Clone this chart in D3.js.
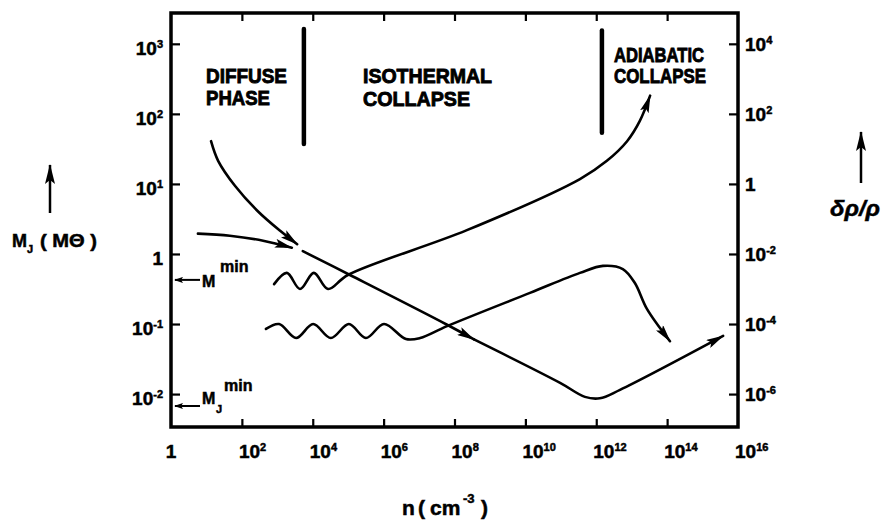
<!DOCTYPE html>
<html>
<head>
<meta charset="utf-8">
<script src="https://cdn.jsdelivr.net/npm/d3@7"></script>
<style>
body { margin: 0; background: #fff; }
text { font-family: "Liberation Sans", Arial, sans-serif; font-weight: bold; fill: #000; stroke: #000; stroke-width: 0.5; }
.track { fill: none; stroke: #000; stroke-width: 2.6; stroke-linecap: round; stroke-linejoin: round; }
.axis line { stroke: #000; stroke-width: 2.2; }
.axis path { display: none; }
</style>
</head>
<body>
<svg width="883" height="526"></svg>
<script>
//All values are log10.
var xTickExp = [0, 2, 4, 6, 8, 10, 12, 14, 16];
var leftTickExp = [3, 2, 1, 0, -1, -2];
var rightTickExp = [4, 2, 0, -2, -4, -6];
var phaseNames = [['DIFFUSE', 'PHASE'], ['ISOTHERMAL', 'COLLAPSE'], ['ADIABATIC', 'COLLAPSE']];
var phaseEdgeN = [3.75, 12.16];
var phaseEdgeTop = [3.21, 3.19], phaseEdgeBottom = [1.57, 1.73];

//Jeans mass track: log n, log M.
var jeansN = [3.72, 5.05, 7.79, 8.55, 10.98, 11.68, 12.10, 12.67, 15.58];
var jeansM = [0.04, -0.30, -1.01, -1.22, -1.84, -2.04, -2.06, -1.94, -1.17];
//Perturbation mass track (wavy start): log n, log M.
var massN = [2.91, 3.27, 3.64, 4.03, 4.43, 4.99, 8.35, 11.54, 12.30, 12.87, 13.23, 13.52];
var massM = [-0.43, -0.27, -0.50, -0.27, -0.50, -0.30, 0.34, 1.07, 1.33, 1.61, 1.90, 2.26];
//Density contrast track (wavy start): log n, log drho/rho.
var contrastN = [2.68, 3.05, 3.53, 4.01, 4.51, 5.02, 5.50, 6.01, 6.63, 7.03, 7.79, 10.13, 11.54, 12.19, 12.75, 13.09, 13.43, 14.08];
var contrastD = [-4.14, -4.00, -4.40, -4.00, -4.40, -4.00, -4.40, -4.00, -4.43, -4.40, -4.06, -3.11, -2.54, -2.34, -2.43, -2.83, -3.57, -4.49];
//Two infall arrows towards the start of the Jeans track.
var inflowN = [0.76, 1.66, 2.60, 3.41], inflowM = [0.29, 0.26, 0.19, 0.09];
var diffuseN = [1.13, 1.33, 1.81, 2.45, 3.08, 3.56], diffuseM = [1.61, 1.33, 0.97, 0.61, 0.33, 0.14];
//Minimum masses marked on the left axis.
var minMassM = -0.37, minJeansM = -2.17;

var svg = d3.select('svg');
var p10 = function(e) { return Math.pow(10, e); };

var x = d3.scaleLog().domain([1, 1e16]).range([171, 738]);
var yL = d3.scaleLog().domain([p10(-2.47), p10(3.44)]).range([427, 13]);
var yR = d3.scaleLog().domain([p10(-6.94), p10(4.88)]).range([427, 13]);
var plotL = x.range()[0], plotR = x.range()[1], plotT = yL.range()[1], plotB = yL.range()[0];

//Arrow heads.
var defs = svg.append('defs');
function head(id, len, half) {
	defs.append('marker')
		.attr('id', id)
		.attr('viewBox', '0 ' + (-half) + ' ' + len + ' ' + (2 * half))
		.attr('refX', len - 1).attr('refY', 0)
		.attr('markerWidth', len).attr('markerHeight', 2 * half)
		.attr('markerUnits', 'userSpaceOnUse')
		.attr('orient', 'auto')
		.append('path')
		.attr('d', 'M0,' + (-half) + 'L' + len + ',0L0,' + half + 'L' + (len * 0.2) + ',0Z');
}
head('head', 18, 4.5);
head('headSmall', 9, 3);
head('headBig', 20, 5);

//Frame and ticks.
svg.append('rect')
	.attr('x', plotL).attr('y', plotT)
	.attr('width', plotR - plotL).attr('height', plotB - plotT)
	.style('fill', 'none').style('stroke', '#000').style('stroke-width', 3.5);
var innerX = xTickExp.slice(1, -1).map(p10);
svg.append('g').attr('class', 'axis').attr('transform', 'translate(0,' + plotB + ')')
	.call(d3.axisBottom(x).tickValues(innerX).tickSize(-8).tickFormat(''));
svg.append('g').attr('class', 'axis').attr('transform', 'translate(0,' + plotT + ')')
	.call(d3.axisTop(x).tickValues(innerX).tickSize(-8).tickFormat(''));
svg.append('g').attr('class', 'axis').attr('transform', 'translate(' + plotL + ',0)')
	.call(d3.axisLeft(yL).tickValues(leftTickExp.map(p10)).tickSize(-9).tickFormat(''));
svg.append('g').attr('class', 'axis').attr('transform', 'translate(' + plotR + ',0)')
	.call(d3.axisRight(yR).tickValues(rightTickExp.map(p10)).tickSize(-9).tickFormat(''));

//Tick labels written as 10 with a raised exponent.
function powerLabel(t, e) {
	if (e === 0) { t.text('1'); return; }
	t.append('tspan').text('10');
	t.append('tspan').attr('font-size', 11).attr('dy', -7).text(e);
}
xTickExp.forEach(function(e) {
	var t = svg.append('text')
		.attr('x', e === 0 ? x(1) : x(p10(e)) - 3)
		.attr('y', 458)
		.attr('font-size', 19)
		.attr('text-anchor', e === 0 ? 'middle' : 'start');
	powerLabel(t, e);
});
leftTickExp.forEach(function(e) {
	var t = svg.append('text')
		.attr('x', 163).attr('y', yL(p10(e)) + 11)
		.attr('font-size', 19).attr('text-anchor', 'end');
	powerLabel(t, e);
});
rightTickExp.forEach(function(e) {
	var t = svg.append('text')
		.attr('x', 745).attr('y', yR(p10(e)) + 7)
		.attr('font-size', 19);
	powerLabel(t, e);
});

//Phase boundaries and names.
phaseEdgeN.forEach(function(n, i) {
	svg.append('line')
		.attr('x1', x(p10(n))).attr('x2', x(p10(n)))
		.attr('y1', yL(p10(phaseEdgeTop[i]))).attr('y2', yL(p10(phaseEdgeBottom[i])))
		.style('stroke', '#000').style('stroke-width', 4.5).style('stroke-linecap', 'round');
});
function label(txt, x0, y0, size, len) {
	var t = svg.append('text').attr('x', x0).attr('y', y0).attr('font-size', size).text(txt);
	if (len) t.attr('textLength', len).attr('lengthAdjust', 'spacingAndGlyphs');
	return t;
}
label(phaseNames[0][0], 206, 83, 21, 81).style('stroke-width', 0.9);
label(phaseNames[0][1], 206, 105, 21, 64).style('stroke-width', 0.9);
label(phaseNames[1][0], 363, 83, 21, 129).style('stroke-width', 0.9);
label(phaseNames[1][1], 363, 106, 21, 107).style('stroke-width', 0.9);
label(phaseNames[2][0], 614, 62, 21, 90).style('stroke-width', 0.9);
label(phaseNames[2][1], 614, 83, 21, 92).style('stroke-width', 0.9);

//Tracks.
function track(nArr, vArr, yScale) {
	return d3.line()
		.curve(d3.curveCatmullRom.alpha(0.5))
		.x(function(d) { return x(p10(d[0])); })
		.y(function(d) { return yScale(p10(d[1])); })(d3.zip(nArr, vArr));
}
svg.append('path').attr('class', 'track')
	.attr('d', track(jeansN.slice(0, 4), jeansM.slice(0, 4), yL))
	.attr('marker-end', 'url(#head)');
svg.append('path').attr('class', 'track')
	.attr('d', track(jeansN.slice(3), jeansM.slice(3), yL))
	.attr('marker-end', 'url(#head)');
svg.append('path').attr('class', 'track')
	.attr('d', track(massN, massM, yL))
	.attr('marker-end', 'url(#head)');
svg.append('path').attr('class', 'track')
	.attr('d', track(contrastN, contrastD, yR))
	.attr('marker-end', 'url(#head)');
svg.append('path').attr('class', 'track')
	.attr('d', track(inflowN, inflowM, yL))
	.attr('marker-end', 'url(#head)');
svg.append('path').attr('class', 'track')
	.attr('d', track(diffuseN, diffuseM, yL))
	.attr('marker-end', 'url(#head)');

//Minimum mass markers.
[minMassM, minJeansM].forEach(function(m) {
	svg.append('line')
		.attr('x1', plotL + 29).attr('x2', plotL + 4)
		.attr('y1', yL(p10(m))).attr('y2', yL(p10(m)))
		.style('stroke', '#000').style('stroke-width', 2)
		.attr('marker-end', 'url(#headSmall)');
});
label('M', 202, yL(p10(minMassM)) + 7, 16);
label('min', 220, yL(p10(minMassM)) - 8, 16);
label('M', 202, yL(p10(minJeansM)) - 2, 16);
label('J', 216, yL(p10(minJeansM)) + 7, 11);
label('min', 224, yL(p10(minJeansM)) - 15, 16);

//Axis labels.
svg.append('line').attr('x1', 50).attr('x2', 50).attr('y1', 213).attr('y2', 165)
	.style('stroke', '#000').style('stroke-width', 2.5).attr('marker-end', 'url(#headBig)');
label('M', 12, 247, 18);
label('J', 27, 253, 11);
label('( MΘ )', 40, 247, 18, 57);

svg.append('line').attr('x1', 861).attr('x2', 861).attr('y1', 183).attr('y2', 132)
	.style('stroke', '#000').style('stroke-width', 2.5).attr('marker-end', 'url(#headBig)');
label('δρ/ρ', 830, 216, 22, 50).style('font-style', 'italic');

var xLab = svg.append('text').attr('y', 515).attr('font-size', 21);
xLab.append('tspan').attr('x', 402).text('n');
xLab.append('tspan').attr('x', 418).text('(');
xLab.append('tspan').attr('x', 430).text('cm');
xLab.append('tspan').attr('x', 463).attr('dy', -12).attr('font-size', 13).text('-3');
xLab.append('tspan').attr('x', 481).attr('dy', 12).text(')');
</script>
</body>
</html>
